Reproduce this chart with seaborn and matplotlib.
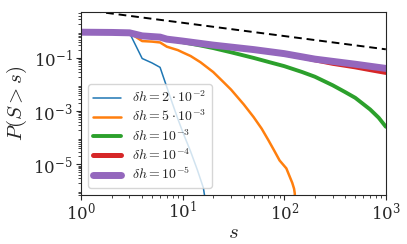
import numpy as np
import matplotlib
matplotlib.use('Agg')
import matplotlib.pyplot as plt
from matplotlib.ticker import LogLocator, NullFormatter
import seaborn as sns

sns.set_style('ticks')
plt.rcParams['mathtext.fontset'] = 'cm'
plt.rcParams['font.family'] = ['DejaVu Serif']
plt.rcParams.update({'xtick.major.size': 3.5, 'ytick.major.size': 3.5,
                     'xtick.minor.size': 2, 'ytick.minor.size': 2,
                     'xtick.major.pad': 1.0, 'ytick.major.pad': 2.5})

# survival functions P(S > s)
s_blue = [1, 2, 3, 4, 5, 6, 7, 8, 9, 10, 12, 14, 16, 17]
p_blue = [0.95, 0.93, 0.90, 0.097, 0.066, 0.045, 8e-3, 1.8e-3, 5e-4, 1.7e-4, 3e-5, 6e-6, 1.3e-6, 3e-7]

s_orange = [1, 2, 3, 4, 5, 6, 7, 8, 9, 10, 12, 15, 20, 25, 30, 40, 50, 60, 70, 80, 90,
            105, 113, 120, 125, 127, 128]
p_orange = [0.95, 0.93, 0.90, 0.44, 0.42, 0.39, 0.27, 0.23, 0.20, 0.165, 0.12, 0.07, 0.03,
            0.013, 0.0065, 0.0018, 6e-4, 2.2e-4, 8e-5, 3.2e-5, 1.4e-5, 7e-6, 3.5e-6, 2e-6,
            1.2e-6, 8e-7, 2e-7]

s_green = [1, 2, 3, 4, 5, 6, 7, 10, 15, 20, 30, 50, 70, 100, 150, 200, 300, 400, 500,
           700, 850, 1000]
p_green = [0.95, 0.93, 0.90, 0.69, 0.65, 0.62, 0.52, 0.40, 0.30, 0.24, 0.166, 0.102, 0.072,
           0.05, 0.030, 0.020, 0.0095, 0.0052, 0.0032, 0.00117, 0.00057, 0.00026]

s_red = [1, 2, 3, 4, 5, 6, 7, 10, 20, 50, 100, 150, 200, 300, 500, 700, 1000]
p_red = [0.95, 0.93, 0.90, 0.69, 0.65, 0.62, 0.52, 0.44, 0.31, 0.21, 0.145, 0.11, 0.087,
         0.064, 0.047, 0.037, 0.029]

s_purple = [1, 2, 3, 4, 5, 6, 7, 10, 20, 50, 100, 200, 500, 1000]
p_purple = [0.95, 0.93, 0.90, 0.69, 0.65, 0.62, 0.52, 0.44, 0.31, 0.21, 0.148, 0.092, 0.059, 0.041]

# power-law guide line (slope -1/2)
s_guide = [1, 1000]
p_guide = [6.8, 0.215]

labels = [r'$\delta h = 2\cdot 10^{-2}$', r'$\delta h = 5\cdot 10^{-3}$',
          r'$\delta h = 10^{-3}$', r'$\delta h = 10^{-4}$', r'$\delta h = 10^{-5}$']
colors = sns.color_palette('tab10', 5)
widths = [1.1, 1.8, 2.8, 3.6, 5.0]
yticks = [1e-5, 1e-3, 1e-1]
xticks = [1, 10, 100, 1000]

fig = plt.figure(figsize=(4.07, 2.44), dpi=100)
ax = fig.add_axes([0.199, 0.201, 0.749, 0.750])

series = [(s_blue, p_blue), (s_orange, p_orange), (s_green, p_green),
          (s_red, p_red), (s_purple, p_purple)]
for (s, p), lab, c, w in zip(series, labels, colors, widths):
    sns.lineplot(x=s, y=p, ax=ax, color=c, lw=w, label=lab, estimator=None, sort=False)

sns.lineplot(x=s_guide, y=p_guide, ax=ax, color='black', lw=1.4, ls=(0, (4, 2.5)),
             estimator=None)

ax.set_xscale('log')
ax.set_yscale('log')
ax.set_xlim(1, 1000)
ax.set_ylim(7e-7, 5.5)
ax.set_yticks(yticks)
ax.set_xticks(xticks)
ax.yaxis.set_minor_locator(LogLocator(subs=np.arange(2, 10), numticks=100))
ax.yaxis.set_minor_formatter(NullFormatter())
ax.xaxis.set_minor_formatter(NullFormatter())
ax.set_xlabel(r'$s$', fontsize=15, labelpad=0)
ax.set_ylabel(r'$P(S>s)$', fontsize=15, labelpad=3)
ax.tick_params(labelsize=12)
ax.legend(loc='lower left', fontsize=10, labelspacing=0.25)

fig.savefig('out.png', dpi=100)
